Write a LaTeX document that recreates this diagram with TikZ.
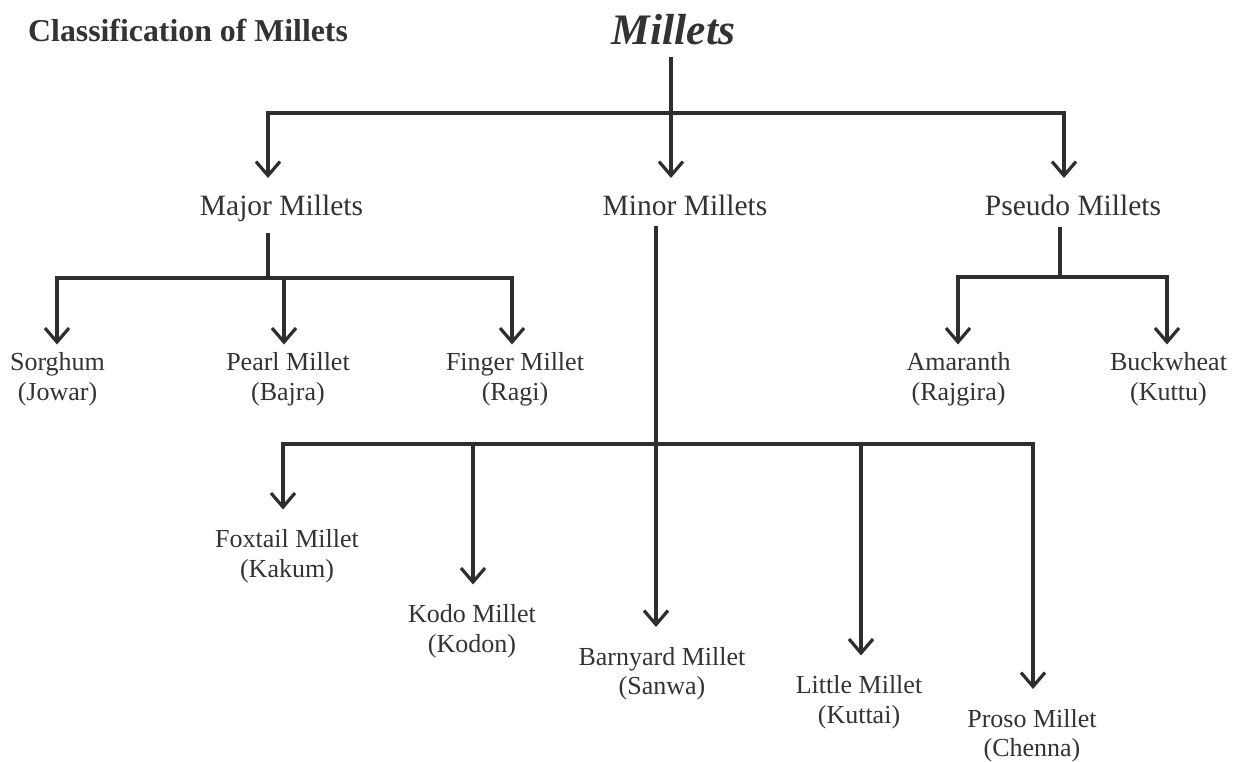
\documentclass[tikz,border=0pt]{standalone}
\usepackage{fontspec}
\setmainfont{Liberation Serif}
\usetikzlibrary{arrows.meta}
\definecolor{ink}{HTML}{2E2E2E}
\definecolor{txt}{HTML}{333333}
\begin{document}
\begin{tikzpicture}[x=1pt,y=-1pt,
  line/.style={draw=ink,line width=3.2pt},
  bar/.style={line,line cap=rect},
  arr/.style={line,-{Straight Barb[length=14pt,width=24pt,line width=3.2pt]}},
  arrone/.style={arr,shorten >=16.5pt},
  arrtwo/.style={arr,shorten >=8pt},
  arrthree/.style={arr,shorten >=20pt},
  lab/.style={inner sep=0pt,text=txt,align=center,anchor=north},
  lone/.style={lab,font=\fontsize{29.5}{32}\selectfont},
  ltwo/.style={lab,font=\fontsize{26}{30}\selectfont},
  lthree/.style={lab,font=\fontsize{26}{29.5}\selectfont}]
\useasboundingbox (0,0) rectangle (1233,761);
\fill[white] (0,0) rectangle (1233,761);

% texts
\node[anchor=base west,inner sep=0pt,text=txt,font=\bfseries\fontsize{31.8}{35}\selectfont] (title) at (28,41) {Classification of Millets};
\node[anchor=base,inner sep=0pt,text=txt,font=\bfseries\itshape\fontsize{43.5}{46}\selectfont] (millets) at (673.5,44) {Millets};

\node[lone] (major) at (281.5,194.5) {Major Millets};
\node[lone] (minor) at (685,194.5) {Minor Millets};
\node[lone] (pseudo) at (1073,194.5) {Pseudo Millets};

\node[ltwo] (sorghum) at (57.5,352.5) {Sorghum\\(Jowar)};
\node[ltwo] (pearl) at (288,352.5) {Pearl Millet\\(Bajra)};
\node[ltwo] (finger) at (515,352.5) {Finger Millet\\(Ragi)};
\node[ltwo] (amaranth) at (958.5,352.5) {Amaranth\\(Rajgira)};
\node[ltwo] (buckwheat) at (1168.5,352.5) {Buckwheat\\(Kuttu)};

\node[lthree] (foxtail) at (287,529.5) {Foxtail Millet\\(Kakum)};
\node[lthree] (kodo) at (472,604.5) {Kodo Millet\\(Kodon)};
\node[lthree] (barnyard) at (662,647) {Barnyard Millet\\(Sanwa)};
\node[lthree] (little) at (859,675.5) {Little Millet\\(Kuttai)};
\node[lthree] (proso) at (1032,709) {Proso Millet\\(Chenna)};

% junctions
\coordinate (jtop) at (671,113);
\coordinate (jmaj) at (268,113);
\coordinate (jpse) at (1064,113);
\coordinate (jmajb) at (268,278);
\coordinate (bsor) at (57,278);
\coordinate (bpea) at (284,278);
\coordinate (bfin) at (512,278);
\coordinate (jpseb) at (1060,277);
\coordinate (bama) at (958,277);
\coordinate (bbuc) at (1167,277);
\coordinate (bfox) at (283,444);
\coordinate (bkod) at (473,444);
\coordinate (bbar) at (656,444);
\coordinate (blit) at (861,444);
\coordinate (bpro) at (1033,444);

% level 1
\draw[bar] (jmaj) -- (jpse);
\draw[arrone,shorten <=12pt] (millets.south -| jtop) -- (jtop |- minor.north);
\draw[arrone] (jmaj) -- (jmaj |- major.north);
\draw[arrone] (jpse) -- (jpse |- pseudo.north);

% major millets
\draw[line,shorten <=11pt] (major.south -| jmajb) -- (jmajb);
\draw[bar] (bsor) -- (bfin);
\draw[arrtwo] (bsor) -- (bsor |- sorghum.north);
\draw[arrtwo] (bpea) -- (bpea |- pearl.north);
\draw[arrtwo] (bfin) -- (bfin |- finger.north);

% pseudo millets
\draw[line,shorten <=11pt] (pseudo.south -| jpseb) -- (jpseb);
\draw[bar] (bama) -- (bbuc);
\draw[arrtwo] (bama) -- (bama |- amaranth.north);
\draw[arrtwo] (bbuc) -- (bbuc |- buckwheat.north);

% minor millets
\draw[bar] (bfox) -- (bpro);
\draw[arrthree,shorten <=10pt] (minor.south -| bbar) -- (bbar |- barnyard.north);
\draw[arrthree] (bfox) -- (bfox |- foxtail.north);
\draw[arrthree] (bkod) -- (bkod |- kodo.north);
\draw[arrthree] (blit) -- (blit |- little.north);
\draw[arrthree] (bpro) -- (bpro |- proso.north);
\end{tikzpicture}
\end{document}
